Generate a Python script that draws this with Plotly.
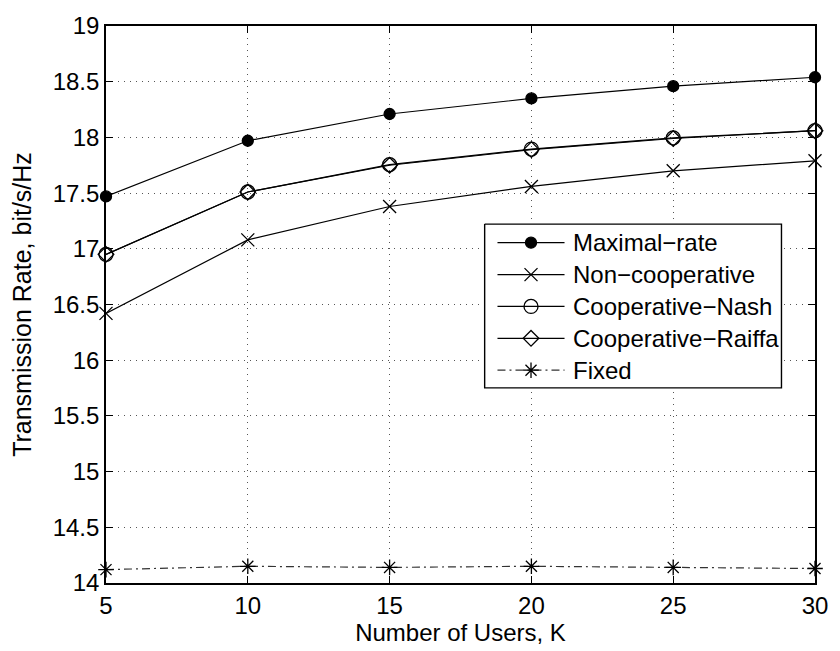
import plotly.graph_objects as go

# Number of users K
users = [5, 10, 15, 20, 25, 30]

# Transmission rate (bit/s/Hz) for each scheme
maximal_rate = [17.47, 17.97, 18.21, 18.35, 18.46, 18.54]
non_cooperative = [16.42, 17.08, 17.38, 17.56, 17.70, 17.79]
coop_nash = [16.95, 17.51, 17.755, 17.895, 17.995, 18.06]
coop_raiffa = [16.95, 17.51, 17.75, 17.89, 17.99, 18.06]
fixed = [14.12, 14.15, 14.14, 14.15, 14.14, 14.13]

FONT = "Liberation Sans, Arial, Helvetica, sans-serif"
W, H = 840, 651
ML, MR, MT, MB = 106, 15, 15, 68
PW, PH = W - ML - MR, H - MT - MB

# name, values, marker symbol, marker size, line dash, line colour
series = [
    ("Maximal\u2212rate", maximal_rate, "circle", 11, "solid", "black"),
    ("Non\u2212cooperative", non_cooperative, "x-thin-open", 13, "solid", "black"),
    ("Cooperative\u2212Nash", coop_nash, "circle-open", 14, "solid", "black"),
    ("Cooperative\u2212Raiffa", coop_raiffa, "diamond-open", 12, "solid", "black"),
    ("Fixed", fixed, "asterisk-open", 13, "8px,4px,2px,4px", "#333333"),
]

fig = go.Figure()

for name, vals, sym, size, dash, col in series:
    fig.add_trace(go.Scatter(
        x=users, y=vals, name=name, mode="lines+markers", cliponaxis=False,
        line=dict(color=col, width=1.2, dash=dash),
        marker=dict(symbol=sym, size=size, color="black",
                    line=dict(color="black", width=1.3)),
        showlegend=False,
    ))

# ---- legend box drawn in pixel space on an overlay pair of axes ----
BOX_L, BOX_R, BOX_T, BOX_B = 490, 791, 217, 384
ROW0, ROW_STEP = 236, 32.5
SAMPLE_L, SAMPLE_R, TEXT_X = 503, 571, 578

fig.add_trace(go.Scatter(
    x=[BOX_L, BOX_R, BOX_R, BOX_L, BOX_L], y=[BOX_T, BOX_T, BOX_B, BOX_B, BOX_T],
    mode="lines", fill="toself", fillcolor="white",
    line=dict(color="black", width=1.4), xaxis="x2", yaxis="y2",
    showlegend=False, hoverinfo="skip",
))
for i, (name, vals, sym, size, dash, col) in enumerate(series):
    ry = ROW0 + i * ROW_STEP
    fig.add_trace(go.Scatter(
        x=[SAMPLE_L, SAMPLE_R], y=[ry, ry], mode="lines",
        line=dict(color=col, width=1.2, dash=dash),
        xaxis="x2", yaxis="y2", showlegend=False, hoverinfo="skip",
    ))
    fig.add_trace(go.Scatter(
        x=[(SAMPLE_L + SAMPLE_R) / 2], y=[ry], mode="markers",
        marker=dict(symbol=sym, size=size, color="black",
                    line=dict(color="black", width=1.3)),
        xaxis="x2", yaxis="y2", showlegend=False, hoverinfo="skip",
    ))
    fig.add_annotation(
        x=TEXT_X, y=ry, xref="x2", yref="y2", text=name, showarrow=False,
        xanchor="left", yanchor="middle",
        font=dict(family=FONT, size=24, color="black"),
    )

axis_common = dict(
    showline=True, linecolor="black", linewidth=1.6, mirror="ticks",
    ticks="inside", ticklen=7, tickcolor="black", tickwidth=1,
    showgrid=True, gridcolor="#555555", gridwidth=1, griddash="1px,5px",
    zeroline=False,
    tickfont=dict(family=FONT, size=24, color="black"),
)

fig.update_xaxes(
    range=[5, 30], tickmode="array", tickvals=users,
    title=dict(text="Number of Users, K", font=dict(family=FONT, size=24, color="black"), standoff=2),
    **axis_common,
)
fig.update_yaxes(
    range=[14, 19], dtick=0.5, tick0=14,
    title=dict(text="Transmission Rate, bit/s/Hz", font=dict(family=FONT, size=25, color="black"), standoff=14),
    **axis_common,
)

fig.update_layout(
    width=W, height=H,
    margin=dict(l=ML, r=MR, t=MT, b=MB),
    paper_bgcolor="white", plot_bgcolor="white",
    font=dict(family=FONT, color="black"),
    showlegend=False,
    xaxis2=dict(overlaying="x", range=[ML, ML + PW], visible=False, fixedrange=True),
    yaxis2=dict(overlaying="y", range=[MT + PH, MT], visible=False, fixedrange=True),
)

fig.write_html("out.html")
